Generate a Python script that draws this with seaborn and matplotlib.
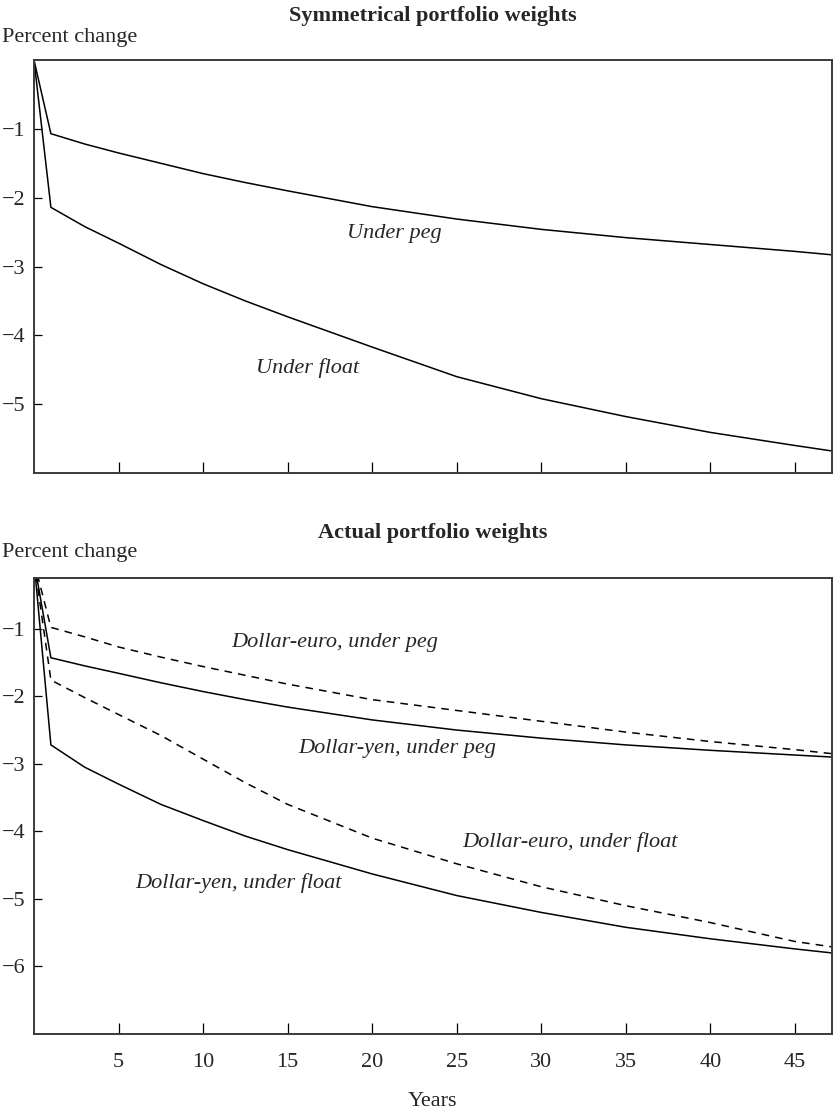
import matplotlib
matplotlib.use("Agg")
import matplotlib.pyplot as plt
import pandas as pd
import seaborn as sns

sns.set_theme(style="ticks")
plt.rcParams['font.family'] = ['Liberation Serif', 'DejaVu Serif']
plt.rcParams['axes.unicode_minus'] = True

# --- dados ---
years = [0, 1, 3, 5, 7.5, 10, 12.5, 15, 20, 25, 30, 35, 40, 45, 47.2]

sym_peg = [0, -1.07, -1.22, -1.35, -1.50, -1.65, -1.78, -1.90, -2.13, -2.31, -2.46, -2.58, -2.68, -2.78, -2.83]
sym_float = [0, -2.14, -2.42, -2.66, -2.97, -3.25, -3.50, -3.73, -4.17, -4.60, -4.92, -5.18, -5.41, -5.60, -5.68]

euro_peg = [0, -0.98, -1.12, -1.27, -1.42, -1.56, -1.69, -1.82, -2.05, -2.21, -2.37, -2.53, -2.67, -2.79, -2.85]
yen_peg = [0, -1.43, -1.55, -1.66, -1.80, -1.93, -2.05, -2.16, -2.35, -2.50, -2.62, -2.72, -2.80, -2.87, -2.90]
euro_float = [0, -1.76, -2.02, -2.27, -2.58, -2.93, -3.28, -3.60, -4.10, -4.48, -4.82, -5.10, -5.35, -5.63, -5.71]
yen_float = [0, -2.72, -3.05, -3.30, -3.60, -3.84, -4.07, -4.27, -4.63, -4.95, -5.20, -5.42, -5.59, -5.74, -5.80]

x_ticks = [5, 10, 15, 20, 25, 30, 35, 40, 45]
top_yticks = [-1, -2, -3, -4, -5]
bottom_yticks = [-1, -2, -3, -4, -5, -6]

FS = 16
SPINE = '#3a3a3a'

fig = plt.figure(figsize=(8.33, 11.14), dpi=100)
ax_top = fig.add_axes([0.0408, 0.5754, 0.958, 0.3707])
ax_bot = fig.add_axes([0.0408, 0.0718, 0.958, 0.4093])

df_top = pd.DataFrame({'ano': years, 'peg': sym_peg, 'float': sym_float})
df_bot = pd.DataFrame({'ano': years, 'euro_peg': euro_peg, 'yen_peg': yen_peg,
                       'euro_float': euro_float, 'yen_float': yen_float})

# Painel 1: pesos simetricos
sns.lineplot(data=df_top, x='ano', y='peg', ax=ax_top, color='black', linewidth=1.1)
sns.lineplot(data=df_top, x='ano', y='float', ax=ax_top, color='black', linewidth=1.1)

# Painel 2: pesos reais
sns.lineplot(data=df_bot, x='ano', y='euro_peg', ax=ax_bot, color='black', linewidth=1.1,
             linestyle=(0, (5, 4)))
sns.lineplot(data=df_bot, x='ano', y='yen_peg', ax=ax_bot, color='black', linewidth=1.1)
sns.lineplot(data=df_bot, x='ano', y='euro_float', ax=ax_bot, color='black', linewidth=1.1,
             linestyle=(0, (5, 4)))
sns.lineplot(data=df_bot, x='ano', y='yen_float', ax=ax_bot, color='black', linewidth=1.1)

for ax, yt in [(ax_top, top_yticks), (ax_bot, bottom_yticks)]:
    ax.set_xlim(0, 47.2)
    ax.set_xticks(x_ticks)
    ax.set_yticks(yt)
    ax.set_xlabel('')
    ax.set_ylabel('')
    ax.tick_params(axis='both', direction='in', labelsize=FS, color='black', width=0.9)
    ax.tick_params(axis='x', length=8, pad=14)
    ax.tick_params(axis='y', length=6, pad=6)
    for s in ax.spines.values():
        s.set_visible(True)
        s.set_color(SPINE)
        s.set_linewidth(1.4)

ax_top.set_ylim(-6, 0)
ax_bot.set_ylim(-7, -0.25)
ax_top.set_xticklabels([])

ax_top.set_title('Symmetrical portfolio weights', fontsize=FS, fontweight='bold', pad=28)
ax_bot.set_title('Actual portfolio weights', fontsize=FS, fontweight='bold', pad=29)
ax_top.text(-0.04, 1.055, 'Percent change', transform=ax_top.transAxes, fontsize=FS, va='center', ha='left')
ax_bot.text(-0.04, 1.055, 'Percent change', transform=ax_bot.transAxes, fontsize=FS, va='center', ha='left')
ax_bot.set_xlabel('Years', fontsize=FS, labelpad=14)

# Rotulos das curvas
ax_top.text(21.3, -2.52, 'Under peg', fontsize=FS, style='italic', ha='center', va='center')
ax_top.text(16.2, -4.47, 'Under float', fontsize=FS, style='italic', ha='center', va='center')
ax_bot.text(17.8, -1.2, 'Dollar-euro, under peg', fontsize=FS, style='italic', ha='center', va='center')
ax_bot.text(21.5, -2.77, 'Dollar-yen, under peg', fontsize=FS, style='italic', ha='center', va='center')
ax_bot.text(31.7, -4.16, 'Dollar-euro, under float', fontsize=FS, style='italic', ha='center', va='center')
ax_bot.text(12.1, -4.77, 'Dollar-yen, under float', fontsize=FS, style='italic', ha='center', va='center')

fig.savefig('out.png', dpi=100)
